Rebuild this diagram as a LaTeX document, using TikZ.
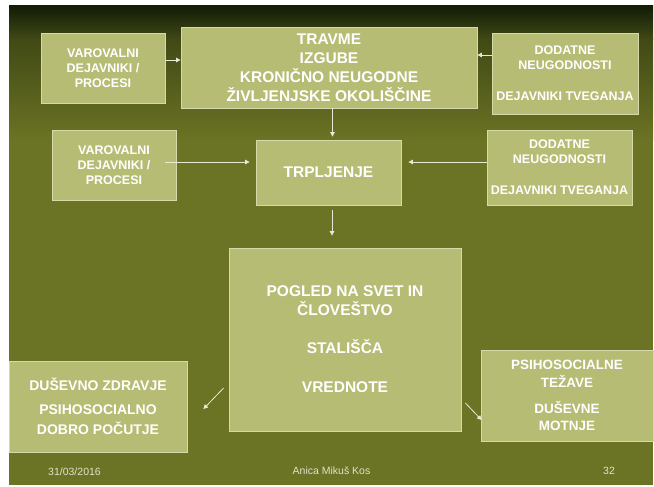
\documentclass[tikz,border=0pt]{standalone}
\usepackage{fontspec}
\setmainfont{Liberation Sans}
\usetikzlibrary{arrows.meta}
\definecolor{darktop}{HTML}{121C07}
\definecolor{midtop}{HTML}{414A15}
\definecolor{slideolive}{HTML}{6B7324}
\definecolor{boxfill}{HTML}{B7BC74}
\definecolor{boxline}{HTML}{D6D9AA}
\definecolor{tipline}{HTML}{E8E8D6}
\definecolor{foottext}{HTML}{E2E2CC}
\tikzset{
  box/.style={draw=boxline, line width=0.8pt, fill=boxfill, inner sep=0pt, align=center, text=white},
  bigtxt/.style={font=\bfseries\fontsize{15.5}{19}\selectfont},
  smalltxt/.style={font=\bfseries\fontsize{12.5}{15}\selectfont},
  midtxt/.style={font=\bfseries\fontsize{14}{20}\selectfont},
  arrow/.style={draw=tipline, line width=0.8pt, -{Triangle[length=4.5pt,width=4.5pt]}},
  foot/.style={text=foottext, font=\fontsize{10.5}{12}\selectfont}
}

\begin{document}
\begin{tikzpicture}[x=1pt,y=-1pt]
\useasboundingbox (0,0) rectangle (654,487);
\fill[white] (0,0) rectangle (654,487);

% Slide background
\shade[top color=darktop, bottom color=midtop] (9,6) rectangle (653,40);
\shade[top color=midtop, bottom color=slideolive] (9,40) rectangle (653,140);
\fill[slideolive] (9,140) rectangle (653,485);

% Top row
\node[box, smalltxt, minimum width=124pt, minimum height=70pt] (varTop) at (103,68) {VAROVALNI\\DEJAVNIKI /\\PROCESI};
\node[box, bigtxt, minimum width=296pt, minimum height=81pt] (travme) at (329,67.5) {TRAVME\\IZGUBE\\KRONIČNO NEUGODNE\\ŽIVLJENJSKE OKOLIŠČINE};
\node[box, smalltxt, minimum width=146pt, minimum height=81pt] (dodTop) at (565,73.5) {DODATNE\\NEUGODNOSTI\\[16pt]DEJAVNIKI TVEGANJA};

% Middle row
\node[box, smalltxt, minimum width=124pt, minimum height=70pt] (varMid) at (114,165) {VAROVALNI\\DEJAVNIKI /\\PROCESI};
\node[box, bigtxt, minimum width=145pt, minimum height=65pt] (trpljenje) at (328.5,172.5) {TRPLJENJE};
\node[box, smalltxt, minimum width=145pt, minimum height=75pt] (dodMid) at (559.5,167.5) {DODATNE\\NEUGODNOSTI\\[16pt]DEJAVNIKI TVEGANJA};

% Bottom row
\node[box, bigtxt, minimum width=232pt, minimum height=183pt] (pogled) at (345,339.5) {POGLED NA SVET IN\\ČLOVEŠTVO\\[19pt]STALIŠČA\\[20pt]VREDNOTE};
\node[box, midtxt, minimum width=178pt, minimum height=91pt] (zdravje) at (98,406.5) {DUŠEVNO ZDRAVJE\\[4pt]PSIHOSOCIALNO\\DOBRO POČUTJE};
\node[box, font=\bfseries\fontsize{13.5}{17.5}\selectfont, minimum width=172pt, minimum height=91pt] (tezave) at (567,395.5) {PSIHOSOCIALNE\\TEŽAVE\\[8.5pt]DUŠEVNE\\MOTNJE};

% Arrows
\draw[arrow] ([yshift=8pt]varTop.east) -- ([yshift=8pt]varTop.east -| travme.west);
\draw[arrow] ([yshift=18.5pt]dodTop.west) -- ([yshift=18.5pt]dodTop.west -| travme.east);
\draw[arrow, shorten >=3pt] ([xshift=3.5pt]travme.south) -- ([xshift=3.5pt]travme.south |- trpljenje.north);
\draw[arrow, shorten <=-11pt, shorten >=6pt] ([yshift=3pt]varMid.east) -- ([yshift=3pt]varMid.east -| trpljenje.west);
\draw[arrow, shorten >=7pt] ([yshift=5.5pt]dodMid.west) -- ([yshift=5.5pt]dodMid.west -| trpljenje.east);
\draw[arrow, shorten <=5pt, shorten >=12pt] ([xshift=3.5pt]trpljenje.south) -- ([xshift=3.5pt]trpljenje.south |- pogled.north);
\draw[arrow] ([xshift=-5pt,yshift=-48.5pt]pogled.west) -- ([xshift=16pt,yshift=-2.5pt]zdravje.east);
\draw[arrow] ([xshift=4pt,yshift=-63.5pt]pogled.east) -- ([xshift=1pt,yshift=-24.5pt]tezave.west);

% Footer
\node[foot] (datum) at (74.5,472) {31/03/2016};
\node[foot] (avtor) at (331.5,471) {Anica Mikuš Kos};
\node[foot] (stran) at (609,471) {32};
\end{tikzpicture}
\end{document}
